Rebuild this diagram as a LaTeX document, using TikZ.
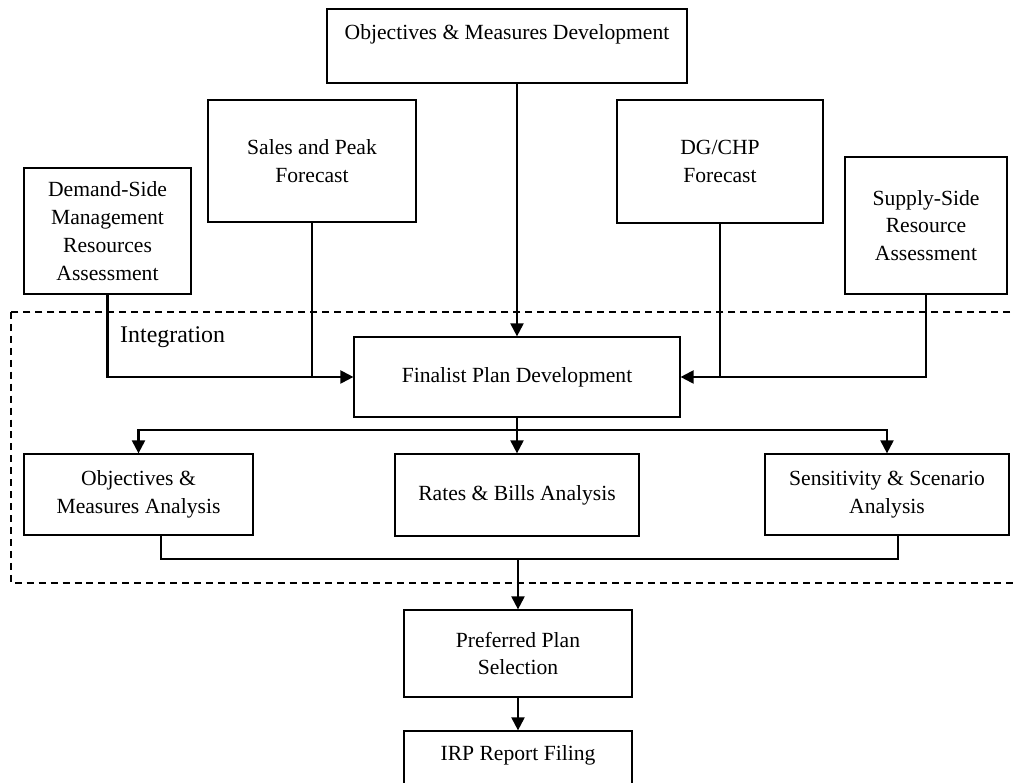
\documentclass[tikz,border=0pt]{standalone}
\usepackage{fontspec}
\setmainfont{Liberation Serif}
\usetikzlibrary{arrows.meta}

\begin{document}
\begin{tikzpicture}[x=0.02cm,y=-0.02cm,
    box/.style = {draw, line width=0.7pt, align=center, inner sep=2pt,
                  font=\fontsize{12.3}{15.8}\selectfont},
    link/.style = {line width=1.2pt},
    arr/.style = {link, -{Triangle[length=0.26cm,width=0.26cm]}}]
    \useasboundingbox (0,0) rectangle (1015,783);
    % integration frame
    \draw[line width=0.7pt, dash pattern=on 4pt off 2.8pt] (11,312) rectangle (1040,583);
    \node[anchor=west, font=\fontsize{13.6}{16}\selectfont] (integ) at (114,337) {Integration};
    % inputs
    \node[box, minimum width=7.2cm, minimum height=1.48cm] (omd) at (507,46) {Objectives \& Measures Development\\ \mbox{}};
    \node[box, minimum width=4.16cm, minimum height=2.44cm] (sales) at (312,161) {Sales and Peak\\Forecast};
    \node[box, minimum width=3.34cm, minimum height=2.52cm] (dsm) at (107.5,231) {Demand-Side\\Management\\Resources\\Assessment};
    \node[box, minimum width=4.12cm, minimum height=2.46cm] (dg) at (720,161.5) {DG/CHP\\Forecast};
    \node[box, minimum width=3.24cm, minimum height=2.74cm] (supply) at (926,225.5) {Supply-Side\\Resource\\Assessment};
    % integration
    \node[box, minimum width=6.52cm, minimum height=1.6cm] (finalist) at (517,377) {Finalist Plan Development};
    \node[box, minimum width=4.58cm, minimum height=1.62cm] (oma) at (138.5,494.5) {Objectives \&\\Measures Analysis};
    \node[box, minimum width=4.88cm, minimum height=1.64cm] (rates) at (517,495) {Rates \& Bills Analysis};
    \node[box, minimum width=4.88cm, minimum height=1.62cm] (sens) at (887,494.5) {Sensitivity \& Scenario\\Analysis};
    % outputs
    \node[box, minimum width=4.56cm, minimum height=1.74cm] (pref) at (518,653.5) {Preferred Plan\\Selection};
    \node[box, minimum width=4.56cm, minimum height=1.44cm] (irp) at (518,767) {IRP Report Filing\\ \mbox{}};
    \coordinate (split) at (517,430);
    \coordinate (merge) at (518,559);

    \draw[arr] (finalist.north |- omd.south) -- (finalist.north);
    \draw[arr] (dsm.south) |- (finalist.west);
    \draw[link] (sales.south) -- (sales.south |- finalist.west);
    \draw[arr] (supply.south) |- (finalist.east);
    \draw[link] (dg.south) -- (dg.south |- finalist.east);
    \draw[link] (finalist.south) -- (split);
    \draw[arr] (split) -- (rates.north);
    \draw[arr] (split) -| (oma.north);
    \draw[arr] (split) -| (sens.north);
    \draw[link] ([xshift=0.45cm]oma.south) |- (merge);
    \draw[link] ([xshift=0.22cm]sens.south) |- (merge);
    \draw[arr] (merge) -- (pref.north);
    \draw[arr] (pref.south) -- (irp.north);
\end{tikzpicture}
\end{document}
